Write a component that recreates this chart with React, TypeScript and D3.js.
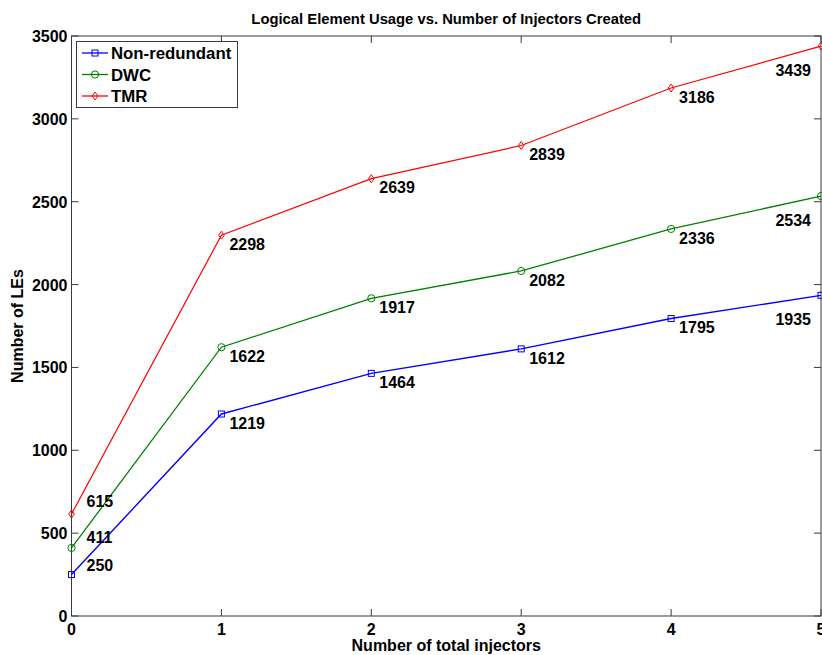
import React from "react";
import * as d3 from "d3";

const injectors = [0, 1, 2, 3, 4, 5];
const seriesNames = ["Non-redundant", "DWC", "TMR"];
const nonRedundant = [250, 1219, 1464, 1612, 1795, 1935];
const dwc = [411, 1622, 1917, 2082, 2336, 2534];
const tmr = [615, 2298, 2639, 2839, 3186, 3439];
const yTicks = [0, 500, 1000, 1500, 2000, 2500, 3000, 3500];
const xTicks = [0, 1, 2, 3, 4, 5];

const W = 822;
const H = 655;
const margin = { left: 71.5, right: 1, top: 36, bottom: 39 };
const FONT = "Arial, 'Liberation Sans', Helvetica, sans-serif";
const AXIS = "#3a3a3a";

type Series = { name: string; values: number[]; color: string; marker: string; width: number };

const series: Series[] = [
  { name: seriesNames[0], values: nonRedundant, color: "#0000ff", marker: "square", width: 1.4 },
  { name: seriesNames[1], values: dwc, color: "#008000", marker: "circle", width: 1.3 },
  { name: seriesNames[2], values: tmr, color: "#ff0000", marker: "diamond", width: 1.2 },
];

function Marker({ kind, x, y, color }: { kind: string; x: number; y: number; color: string }) {
  if (kind === "square")
    return <rect x={x - 3} y={y - 3} width={6} height={6} fill="none" stroke={color} strokeWidth={1} />;
  if (kind === "circle")
    return <circle cx={x} cy={y} r={3.6} fill="none" stroke={color} strokeWidth={1} />;
  return (
    <path
      d={`M${x},${y - 4}L${x + 2.8},${y}L${x},${y + 4}L${x - 2.8},${y}Z`}
      fill="none"
      stroke={color}
      strokeWidth={1}
    />
  );
}

// value annotations sit right-below each point, left-below at the last column,
// and right-above at the first column
function labelPlacement(i: number, s: number) {
  if (i === 0) return { dx: 15, dy: -9 - 2 * s, anchor: "start" };
  if (i === injectors.length - 1) return { dx: -10, dy: 24, anchor: "end" };
  return { dx: 8, dy: 9, anchor: "start" };
}

export default function App() {
  const x = d3.scaleLinear().domain([0, 5]).range([margin.left, W - margin.right]);
  const y = d3.scaleLinear().domain([0, 3500]).range([H - margin.bottom, margin.top]);
  const line = d3
    .line<number>()
    .x((_, i) => x(injectors[i]))
    .y((d) => y(d));

  const x0 = x(0);
  const x1 = x(5);
  const y0 = y(0);
  const y1 = y(3500);
  const tl = 7;

  return (
    <svg
      width={W}
      height={H}
      style={{ position: "absolute", left: 0, top: 0, background: "#fff" }}
      fontFamily={FONT}
    >
      <rect x={0} y={0} width={W} height={H} fill="#fff" />

      {/* ticks on all four sides, pointing inward */}
      {xTicks.map((t) => (
        <g key={`xt${t}`} stroke={AXIS} strokeWidth={1}>
          <line x1={x(t)} x2={x(t)} y1={y0} y2={y0 - tl} />
          <line x1={x(t)} x2={x(t)} y1={y1} y2={y1 + tl} />
        </g>
      ))}
      {yTicks.map((t) => (
        <g key={`yt${t}`} stroke={AXIS} strokeWidth={1}>
          <line x1={x0} x2={x0 + tl} y1={y(t)} y2={y(t)} />
          <line x1={x1} x2={x1 - tl} y1={y(t)} y2={y(t)} />
        </g>
      ))}
      <rect x={x0} y={y1} width={x1 - x0} height={y0 - y1} fill="none" stroke={AXIS} strokeWidth={1} />

      {/* tick labels */}
      {xTicks.map((t) => (
        <text
          key={`xl${t}`}
          x={x(t)}
          y={y0 + 18.5}
          textAnchor="middle"
          fontSize={16}
          fontWeight="bold"
          fill="#000"
        >
          {t}
        </text>
      ))}
      {yTicks.map((t) => (
        <text
          key={`yl${t}`}
          x={x0 - 4}
          y={y(t) + 6}
          textAnchor="end"
          fontSize={16}
          fontWeight="bold"
          fill="#000"
        >
          {t}
        </text>
      ))}

      {/* series */}
      {series.map((s) => (
        <g key={s.name}>
          <path d={line(s.values) || ""} fill="none" stroke={s.color} strokeWidth={s.width} />
          {s.values.map((v, i) => (
            <Marker key={i} kind={s.marker} x={x(injectors[i])} y={y(v)} color={s.color} />
          ))}
        </g>
      ))}

      {/* value labels */}
      {series.map((s, si) =>
        s.values.map((v, i) => {
          const p = labelPlacement(i, si);
          return (
            <text
              key={`${s.name}-${i}`}
              x={x(injectors[i]) + p.dx}
              y={y(v) + p.dy}
              dy="0.36em"
              textAnchor={p.anchor as "start" | "end"}
              fontSize={16}
              fontWeight="bold"
              fill="#000"
            >
              {v}
            </text>
          );
        })
      )}

      {/* legend */}
      <g>
        <rect x={76.5} y={41.5} width={161} height={66} fill="#fff" stroke={AXIS} strokeWidth={1} />
        {series.map((s, i) => {
          const ly = 53 + i * 21.5;
          return (
            <g key={`lg${s.name}`}>
              <line x1={82} x2={108} y1={ly} y2={ly} stroke={s.color} strokeWidth={1.3} />
              <Marker kind={s.marker} x={95} y={ly} color={s.color} />
              <text x={111} y={ly} dy="0.36em" fontSize={16.8} fontWeight="bold" fill="#000">
                {s.name}
              </text>
            </g>
          );
        })}
      </g>

      {/* titles */}
      <text
        x={(x0 + x1) / 2}
        y={24}
        textAnchor="middle"
        fontSize={14.8}
        fontWeight="bold"
        fill="#000"
      >
        Logical Element Usage vs. Number of Injectors Created
      </text>
      <text
        x={(x0 + x1) / 2}
        y={651}
        textAnchor="middle"
        fontSize={16}
        fontWeight="bold"
        fill="#000"
      >
        Number of total injectors
      </text>
      <text
        transform={`translate(23,${(y0 + y1) / 2}) rotate(-90)`}
        textAnchor="middle"
        fontSize={16}
        fontWeight="bold"
        fill="#000"
      >
        Number of LEs
      </text>
    </svg>
  );
}
